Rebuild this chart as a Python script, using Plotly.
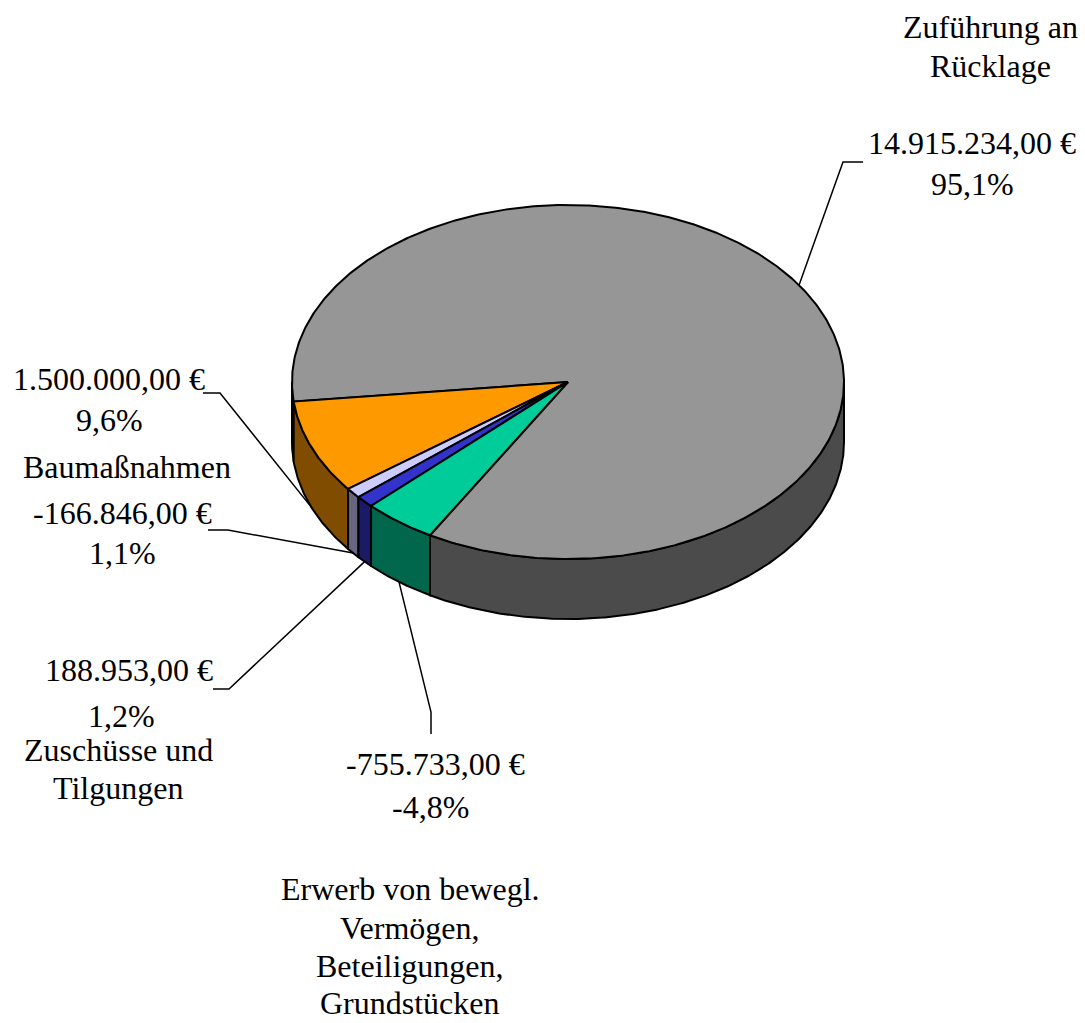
import numpy as np
import plotly.graph_objects as go

# ---------------- data ----------------
categories = ["Zuführung an Rücklage", "Baumaßnahmen", "", "Zuschüsse und Tilgungen",
              "Erwerb von bewegl. Vermögen, Beteiligungen, Grundstücken"]
values = [14915234.00, 1500000.00, -166846.00, 188953.00, -755733.00]
percent_labels = [95.1, 9.6, 1.1, 1.2, -4.8]   # as printed on the chart

# ---------------- styles / layout ----------------
top_colors = ["#969696", "#FF9900", "#CCCCFF", "#3333CC", "#00CC99"]
side_colors = ["#4B4B4B", "#804C00", "#666680", "#1A1A66", "#00664C"]
W, H = 1085, 1023
CX, CY, RX, RY, DEPTH = 568.0, 382.0, 276.0, 177.0, 60.0
START_ANGLE = 240.0  # degrees (math), slices run counter-clockwise
FONT = dict(family="Liberation Serif, Times New Roman, serif", size=32, color="black")


def fmt_eur(v):
    s = f"{v:,.2f}".replace(",", "X").replace(".", ",").replace("X", ".")
    return s + " €"


def fmt_pct(p):
    return f"{p:.1f}".replace(".", ",") + "%"


abs_vals = np.abs(np.array(values))
shares = abs_vals / abs_vals.sum() * 360.0
bounds = START_ANGLE + np.concatenate([[0], np.cumsum(shares)])


def pt(theta_deg, dz=0.0):
    t = np.radians(theta_deg)
    return CX + RX * np.cos(t), CY - RY * np.sin(t) + dz


fig = go.Figure()

# side walls (front half: 180..360 deg mod 360)
for i in range(len(values)):
    a0, a1 = bounds[i], bounds[i + 1]
    for k in range(-1, 3):
        lo, hi = 180 + 360 * k, 360 + 360 * k
        b0, b1 = max(a0, lo), min(a1, hi)
        if b1 - b0 <= 1e-6:
            continue
        th = np.linspace(b0, b1, max(int((b1 - b0) * 2), 2))
        xt, yt = pt(th)
        xb, yb = pt(th[::-1], DEPTH)
        xs = np.concatenate([xt, xb, xt[:1]])
        ys = np.concatenate([yt, yb, yt[:1]])
        fig.add_trace(go.Scatter(x=xs, y=ys, mode="lines", fill="toself",
                                 fillcolor=side_colors[i],
                                 line=dict(color="black", width=2),
                                 hoverinfo="skip", showlegend=False))

# top faces
for i in range(len(values)):
    a0, a1 = bounds[i], bounds[i + 1]
    th = np.linspace(a0, a1, max(int((a1 - a0) * 2), 2))
    xa, ya = pt(th)
    xs = np.concatenate([[CX], xa, [CX]])
    ys = np.concatenate([[CY], ya, [CY]])
    fig.add_trace(go.Scatter(x=xs, y=ys, mode="lines", fill="toself",
                             fillcolor=top_colors[i],
                             line=dict(color="black", width=2),
                             hoverinfo="skip", showlegend=False))

# leader lines: label-side points (layout), end point computed from slice mid-angle
leader_start = [[(863, 162), (843, 162)],
                [(203, 393), (220, 393)],
                [(208, 530), (228, 530)],
                [(213, 689), (229, 689)],
                [(431, 734), (431, 712)]]
for i in range(len(values)):
    mid = (bounds[i] + bounds[i + 1]) / 2
    front = np.sin(np.radians(mid)) < 0
    ex, ey = pt(mid, DEPTH if front else 0.0)
    xs = [p[0] for p in leader_start[i]] + [ex]
    ys = [p[1] for p in leader_start[i]] + [ey]
    fig.add_trace(go.Scatter(x=xs, y=ys, mode="lines",
                             line=dict(color="black", width=1.5),
                             hoverinfo="skip", showlegend=False))

# labels
value_pos = [((972, 143), (972, 184)),
             ((109, 379), (109, 420)),
             ((122, 513), (122, 553)),
             ((129, 670), (121, 716)),
             ((435, 764), (430, 807))]
name_lines = [["Zuführung an", "Rücklage"],
              ["Baumaßnahmen"],
              [],
              ["Zuschüsse und", "Tilgungen"],
              ["Erwerb von bewegl.", "Vermögen,", "Beteiligungen,", "Grundstücken"]]
name_pos = [[(990, 27), (990, 66)],
            [(127, 467)],
            [],
            [(118, 750), (118, 788)],
            [(410, 889), (410, 928), (410, 966), (410, 1003)]]

annotations = []
for i, v in enumerate(values):
    (x1, y1), (x2, y2) = value_pos[i]
    annotations.append(dict(x=x1, y=y1, text=fmt_eur(v), showarrow=False,
                            xanchor="center", yanchor="middle", font=FONT))
    annotations.append(dict(x=x2, y=y2, text=fmt_pct(percent_labels[i]), showarrow=False,
                            xanchor="center", yanchor="middle", font=FONT))
    for txt, (nx, ny) in zip(name_lines[i], name_pos[i]):
        annotations.append(dict(x=nx, y=ny, text=txt, showarrow=False,
                                xanchor="center", yanchor="middle", font=FONT))

fig.update_layout(
    width=W, height=H,
    margin=dict(l=0, r=0, t=0, b=0),
    paper_bgcolor="white", plot_bgcolor="white",
    xaxis=dict(range=[0, W], visible=False, fixedrange=True),
    yaxis=dict(range=[H, 0], visible=False, fixedrange=True),
    annotations=annotations,
    showlegend=False,
)

fig.write_html("out.html", config={"displayModeBar": False},
               post_script="document.body.style.margin='0';document.body.style.overflow='hidden';")
